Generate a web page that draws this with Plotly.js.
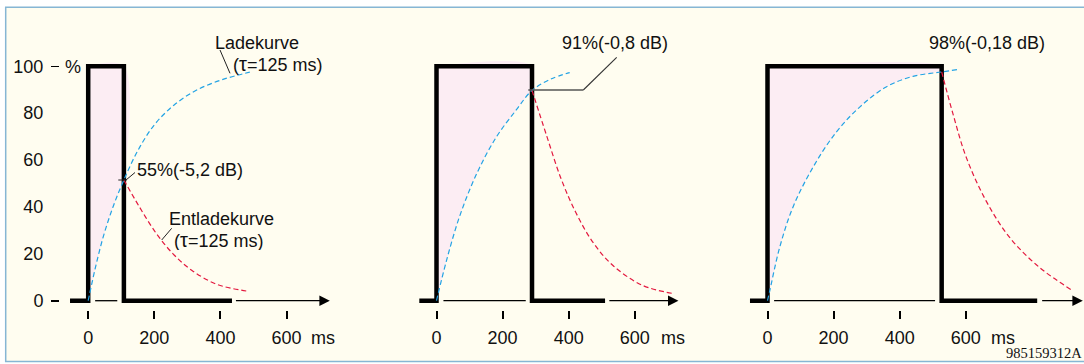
<!DOCTYPE html>
<html>
<head>
<meta charset="utf-8">
<script src="https://cdn.plot.ly/plotly-3.0.1.min.js"></script>
<style>html,body{margin:0;padding:0;background:#fff;}#chart{width:1084px;height:364px;}</style>
</head>
<body>
<div id="chart"></div>
<script>
// ---------- data ----------
const xTicks = [0, 200, 400, 600];
const xTickText = ["0", "200", "400", "600"];
const yTicks = [0, 20, 40, 60, 80, 100];
const yTickText = ["0", "20", "40", "60", "80", "100"];
const yDashTicks = [0, 100];

// rectangular pulses (ms, %)
const pulse1X = [-55, 0, 0, 108, 108, 435];
const pulse2X = [-52, 0, 0, 289, 289, 510];
const pulse3X = [-53, 0, 0, 527, 527, 816];
const pulseY = [0, 0, 100, 100, 0, 0];

// thin time-axis pieces
const axis1X = [21, 88, null, 447, 724];
const axis2X = [21, 270, null, 523, 725];
const axis3X = [20, 507, null, 831, 946];
const axisY = [0, 0, null, 0, 0];
const arrowTip = [731, 732, 954];

// charging curves (Ladekurve)
const charge1X = [0, 20, 45, 75, 108, 150, 200, 260, 330, 410, 489];
const charge1Y = [0, 13, 27, 40, 51.5, 64, 75, 83.5, 90, 94.5, 97.5];
const charge2X = [0, 30, 70, 121, 181, 242, 289, 345, 403];
const charge2Y = [0, 17, 36, 54, 69.8, 81.5, 89.7, 94.5, 97.3];
const charge3X = [0, 7, 37, 77, 138, 208, 279, 359, 440, 527, 576];
const charge3Y = [0, 4.3, 22.8, 39.9, 57, 71.9, 82.6, 91.2, 95.7, 97.6, 98.6];

// discharging curves (Entladekurve)
const dis1X = [108, 155, 207, 260, 313, 389, 484];
const dis1Y = [51.5, 40, 28.5, 19.5, 13, 7, 4];
const dis2X = [289, 333, 377, 422, 473, 534, 624, 715];
const dis2Y = [89.7, 70.5, 52, 37.5, 25, 15, 6.5, 3.1];
const dis3X = [527, 561, 601, 661, 732, 823, 923];
const dis3Y = [97.6, 79.8, 61.3, 42.7, 27.1, 14.2, 4.3];

// ---------- geometry helpers ----------
const W = 1084, H = 364;
const ZERO = [88.2, 436.5, 767.5];      // pixel of t=0 in each panel
const SX = 0.3305;                        // px per ms
const Y0 = 300.7, SY = 2.344;             // pixel of 0 %, px per %
const DOM = [[60, 345], [400, 700], [730, 1084]];
const YB = 310, YT = 36;
const px = v => v / W, py = v => 1 - v / H;

const FONT = "Liberation Sans, Arial, Helvetica, sans-serif";
const FS = 18;
const BLUE = "#22a3e4", RED = "#e3193f", PINK = "#fcedf3", CREAM = "#fffdf0";

const panels = [
  {px: pulse1X, ax: axis1X, cx: charge1X, cy: charge1Y, dx: dis1X, dy: dis1Y},
  {px: pulse2X, ax: axis2X, cx: charge2X, cy: charge2Y, dx: dis2X, dy: dis2Y},
  {px: pulse3X, ax: axis3X, cx: charge3X, cy: charge3Y, dx: dis3X, dy: dis3Y}
];

const traces = [];
const annotations = [];
panels.forEach((p, i) => {
  const xa = i === 0 ? "x" : "x" + (i + 1);
  const tEnd = p.dx[0], top = Math.max(...pulseY);
  // pink area between charging curve and pulse
  const fx = [], fy = [];
  p.cx.forEach((t, k) => { if (t <= tEnd) { fx.push(t); fy.push(p.cy[k]); } });
  fx.push(tEnd, tEnd, 0); fy.push(p.dy[0], top, top);
  traces.push({x: fx, y: fy, xaxis: xa, yaxis: "y", mode: "lines", fill: "toself",
    fillcolor: PINK, line: {width: 0, shape: "spline"}, hoverinfo: "skip", showlegend: false});
  // thin axis
  traces.push({x: p.ax, y: axisY, xaxis: xa, yaxis: "y", mode: "lines",
    line: {color: "#000", width: 1.3}, hoverinfo: "skip", showlegend: false, connectgaps: false});
  // pulse
  traces.push({x: p.px, y: pulseY, xaxis: xa, yaxis: "y", mode: "lines",
    line: {color: "#000", width: 4.5}, hoverinfo: "skip", showlegend: false});
  // charge curve
  traces.push({x: p.cx, y: p.cy, xaxis: xa, yaxis: "y", mode: "lines",
    line: {color: BLUE, width: 1.2, dash: "5px,3px", shape: "spline"}, hoverinfo: "skip", showlegend: false});
  // discharge curve
  traces.push({x: p.dx, y: p.dy, xaxis: xa, yaxis: "y", mode: "lines",
    line: {color: RED, width: 1.2, dash: "5px,3px", shape: "spline"}, hoverinfo: "skip", showlegend: false});
  // arrow head of the time axis
  annotations.push({x: arrowTip[i], y: 0, ax: arrowTip[i] - 25, ay: 0, xref: xa, yref: "y",
    axref: xa, ayref: "y", text: "", showarrow: true, arrowhead: 2, arrowsize: 1.6,
    arrowwidth: 1.3, arrowcolor: "#000"});
});
traces.push({x: [], y: [], xaxis: "x", yaxis: "y4", mode: "lines", showlegend: false, hoverinfo: "skip"});

const TAU = "<span style='font-size:20px'>τ</span>";
const layout = {
  width: W, height: H, autosize: false,
  margin: {l: 0, r: 0, t: 0, b: 0, pad: 0},
  paper_bgcolor: "#ffffff", plot_bgcolor: "rgba(0,0,0,0)",
  showlegend: false,
  font: {family: FONT, size: FS, color: "#111"},
  yaxis: {domain: [py(YB), py(YT)], range: [(Y0 - YB) / SY, (Y0 - YT) / SY], anchor: "x",
    tickvals: yTicks, ticktext: yTickText, ticks: "outside", ticklen: 8,
    tickcolor: "rgba(0,0,0,0)", showline: false, showgrid: false, zeroline: false,
    tickfont: {family: FONT, size: FS, color: "#111"}, ticklabelstandoff: 4, fixedrange: true},
  yaxis4: {overlaying: "y", anchor: "x", side: "left", range: [(Y0 - YB) / SY, (Y0 - YT) / SY],
    tickvals: yDashTicks, ticks: "outside", ticklen: 8, tickwidth: 1.6, tickcolor: "#000",
    showticklabels: false, showline: false, showgrid: false, zeroline: false, fixedrange: true},
  shapes: [
    {type: "rect", xref: "paper", yref: "paper", x0: px(5.7), x1: px(1095), y0: py(361.5), y1: py(7.3),
      fillcolor: CREAM, line: {color: "#86b6d4", width: 1.5}, layer: "below"},
    // leader lines
    {type: "line", xref: "paper", yref: "paper", x0: px(220), y0: py(50), x1: px(230), y1: py(73.3), line: {color: "#222", width: 1}},
    {type: "line", xref: "paper", yref: "paper", x0: px(118.3), y0: py(180), x1: px(126.7), y1: py(180), line: {color: "#222", width: 1}},
    {type: "line", xref: "paper", yref: "paper", x0: px(126), y0: py(180), x1: px(135), y1: py(172.5), line: {color: "#222", width: 1}},
    {type: "line", xref: "paper", yref: "paper", x0: px(171.7), y0: py(228.3), x1: px(161.7), y1: py(240), line: {color: "#222", width: 1}},
    {type: "line", xref: "paper", yref: "paper", x0: px(616.7), y0: py(57.3), x1: px(583.3), y1: py(90), line: {color: "#333", width: 1.1}},
    {type: "line", xref: "paper", yref: "paper", x0: px(583.3), y0: py(90), x1: px(528.3), y1: py(90), line: {color: "#555", width: 1.4}}
  ],
  annotations: annotations.concat([
    {text: "%", x: px(63), y: py(66.7), xref: "paper", yref: "paper", xanchor: "left", yanchor: "middle", showarrow: false},
    {text: "Ladekurve", x: px(213), y: py(43.3), xref: "paper", yref: "paper", xanchor: "left", yanchor: "middle", showarrow: false},
    {text: "(" + TAU + "=125 ms)", x: px(231), y: py(63.8), xref: "paper", yref: "paper", xanchor: "left", yanchor: "middle", showarrow: false},
    {text: "55%(-5,2 dB)", x: px(135), y: py(170), xref: "paper", yref: "paper", xanchor: "left", yanchor: "middle", showarrow: false},
    {text: "Entladekurve", x: px(166.5), y: py(219), xref: "paper", yref: "paper", xanchor: "left", yanchor: "middle", showarrow: false, height: 20},
    {text: "(" + TAU + "=125 ms)", x: px(172), y: py(240), xref: "paper", yref: "paper", xanchor: "left", yanchor: "middle", showarrow: false, height: 20},
    {text: "91%(-0,8 dB)", x: px(560), y: py(43.3), xref: "paper", yref: "paper", xanchor: "left", yanchor: "middle", showarrow: false},
    {text: "98%(-0,18 dB)", x: px(926.5), y: py(43.3), xref: "paper", yref: "paper", xanchor: "left", yanchor: "middle", showarrow: false},
    {text: "ms", x: px(308.5), y: py(338), xref: "paper", yref: "paper", xanchor: "left", yanchor: "middle", showarrow: false},
    {text: "ms", x: px(658.5), y: py(338), xref: "paper", yref: "paper", xanchor: "left", yanchor: "middle", showarrow: false},
    {text: "ms", x: px(988.5), y: py(338), xref: "paper", yref: "paper", xanchor: "left", yanchor: "middle", showarrow: false},
    {text: "985159312A", x: px(1084), y: py(353.3), xref: "paper", yref: "paper", xanchor: "right", yanchor: "middle", showarrow: false,
      font: {family: "Liberation Serif, Times New Roman, serif", size: 14.5, color: "#111"}}
  ])
};
DOM.forEach((d, i) => {
  const key = i === 0 ? "xaxis" : "xaxis" + (i + 1);
  layout[key] = {domain: [px(d[0]), px(d[1])], range: [(d[0] - ZERO[i]) / SX, (d[1] - ZERO[i]) / SX],
    anchor: "y", showgrid: false, zeroline: false, showline: false,
    ticks: "outside", ticklen: 8, tickwidth: 2, tickcolor: "#000",
    tickvals: xTicks, ticktext: xTickText, tickfont: {family: FONT, size: FS, color: "#111"},
    ticklabelstandoff: 3, fixedrange: true};
});

Plotly.newPlot("chart", traces, layout, {staticPlot: true, displayModeBar: false});
</script>
</body>
</html>
